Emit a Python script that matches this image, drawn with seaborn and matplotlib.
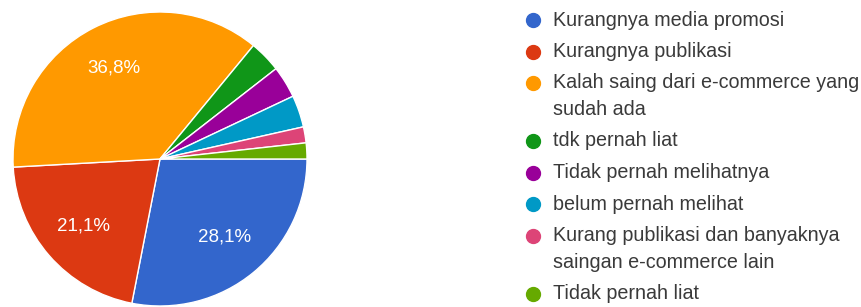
import matplotlib
matplotlib.use("Agg")
import matplotlib.pyplot as plt
import seaborn as sns

categories = [
    "Kurangnya media promosi",
    "Kurangnya publikasi",
    "Kalah saing dari e-commerce yang\nsudah ada",
    "tdk pernah liat",
    "Tidak pernah melihatnya",
    "belum pernah melihat",
    "Kurang publikasi dan banyaknya\nsaingan e-commerce lain",
    "Tidak pernah liat",
]
counts = [16, 12, 21, 2, 2, 2, 1, 1]
colors = ["#3366cc", "#dc3912", "#ff9900", "#109618",
          "#990099", "#0099c6", "#dd4477", "#66aa00"]

sns.set_theme(style="white")
plt.rcParams["font.family"] = ["Liberation Sans", "DejaVu Sans"]

W, H = 862, 307
fig = plt.figure(figsize=(W / 100, H / 100), dpi=100)
fig.patch.set_facecolor("white")

cx, cy, r = 160, 159, 147
ax = fig.add_axes([(cx - r) / W, (H - cy - r) / H, 2 * r / W, 2 * r / H])


def fmt(p):
    if p < 5:
        return ""
    return f"{p:.1f}%".replace(".", ",")


wedges, texts, autotexts = ax.pie(
    counts, colors=colors, startangle=0, counterclock=False,
    autopct=fmt, pctdistance=0.69,
    wedgeprops=dict(edgecolor="white", linewidth=1),
    textprops=dict(color="white", fontsize=13.5),
)
ax.set_xlim(-1, 1)
ax.set_ylim(-1, 1)
ax.set_aspect("equal")
ax.axis("off")

# legend drawn in a pixel-coordinate overlay axes
lax = fig.add_axes([0, 0, 1, 1])
lax.set_xlim(0, W)
lax.set_ylim(H, 0)
lax.axis("off")
lax.patch.set_alpha(0)

fs = 14.2
y = 20.0
item_step, line_step = 31.5, 26.5
for label, c in zip(categories, colors):
    lax.plot([533], [y], marker="o", linestyle="none", markersize=10,
             markerfacecolor=c, markeredgecolor=c)
    lines = label.split("\n")
    for i, ln in enumerate(lines):
        lax.text(553, y + i * line_step, ln, fontsize=fs, color="#3a3a3a",
                 va="center", ha="left")
    y += item_step + line_step * (len(lines) - 1)

fig.savefig("out.png", dpi=100)
